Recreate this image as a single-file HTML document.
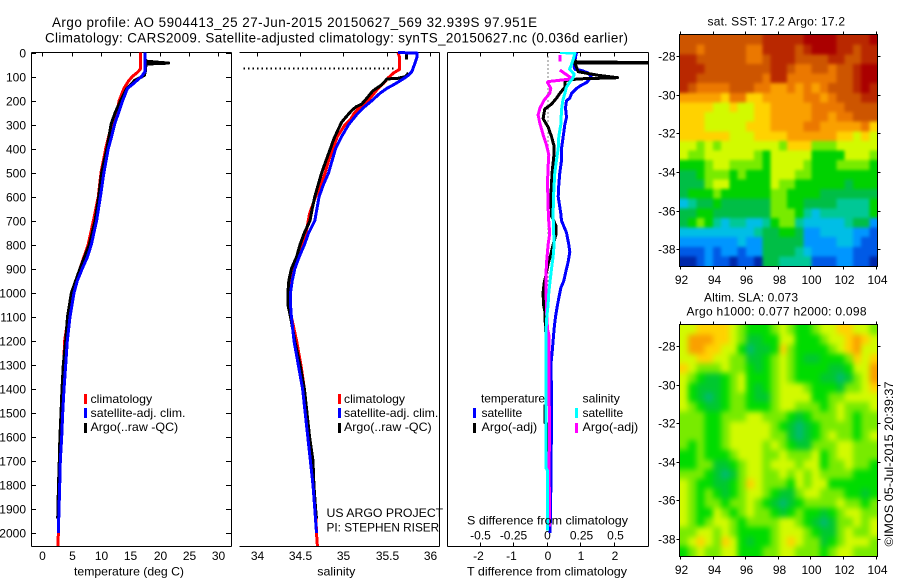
<!DOCTYPE html>
<html lang="en">
<head>
<meta charset="utf-8">
<title>Argo profile 5904413_25</title>
<style>
html,body{margin:0;padding:0;background:#fff;width:900px;height:580px;overflow:hidden}
svg{display:block;font-family:"Liberation Sans",Arial,sans-serif;font-size:12px;fill:#000}
text{fill:#000}
.frame{stroke:#000;stroke-width:1;shape-rendering:crispEdges;fill:none}
.tick{stroke:#000;stroke-width:1;shape-rendering:crispEdges}
.prof{fill:none;shape-rendering:crispEdges;stroke-linejoin:round}
.tl{font-size:13.4px}
</style>
</head>
<body>
<svg id="chart" xmlns="http://www.w3.org/2000/svg" width="900" height="580" viewBox="0 0 900 580">
<defs>
<clipPath id="diffClip"><rect x="448" y="52" width="200" height="494"/></clipPath>
<clipPath id="sstClip"><rect x="680" y="35" width="197.5" height="231"/></clipPath>
<clipPath id="slaClip"><rect x="680" y="325" width="197.5" height="231"/></clipPath>
<filter id="slaBlur" filterUnits="userSpaceOnUse" x="640" y="290" width="280" height="300" color-interpolation-filters="sRGB"><feGaussianBlur stdDeviation="3"/></filter>
<filter id="sstBlur" filterUnits="userSpaceOnUse" x="640" y="0" width="280" height="300" color-interpolation-filters="sRGB"><feGaussianBlur stdDeviation="1.6"/></filter>
</defs>

<text class="tl" x="52" y="27" textLength="485">Argo profile: AO 5904413_25 27-Jun-2015 20150627_569 32.939S 97.951E</text>
<text class="tl" x="45" y="42.5" textLength="583">Climatology: CARS2009. Satellite-adjusted climatology: synTS_20150627.nc (0.036d earlier)</text>

<g id="tempPanel"></g>
<g id="salPanel"></g>
<g id="diffPanel"></g>
<g id="sstPanel"></g>
<g id="slaPanel"></g>

<text x="74" y="575.5" textLength="110" lengthAdjust="spacingAndGlyphs">temperature (deg C)</text>
<text x="317.3" y="575.5" textLength="38" lengthAdjust="spacingAndGlyphs">salinity</text>
<text x="467" y="575.5" textLength="160" lengthAdjust="spacingAndGlyphs">T difference from climatology</text>
<text x="467" y="524.5" textLength="161" lengthAdjust="spacingAndGlyphs">S difference from climatology</text>

<g>
<rect x="84" y="394" width="3" height="10" fill="#f00"/>
<rect x="84" y="408" width="3" height="10" fill="#00f"/>
<rect x="84" y="423" width="3" height="10" fill="#000"/>
<text x="90.5" y="403" textLength="61.7" lengthAdjust="spacingAndGlyphs">climatology</text>
<text x="90.5" y="417" textLength="95" lengthAdjust="spacingAndGlyphs">satellite-adj. clim.</text>
<text x="90.5" y="431" textLength="87.7" lengthAdjust="spacingAndGlyphs">Argo(..raw -QC)</text>
</g>
<g>
<rect x="338" y="394" width="3" height="10" fill="#f00"/>
<rect x="338" y="408" width="3" height="10" fill="#00f"/>
<rect x="338" y="423" width="3" height="10" fill="#000"/>
<text x="344" y="403" textLength="61" lengthAdjust="spacingAndGlyphs">climatology</text>
<text x="344" y="417" textLength="94.3" lengthAdjust="spacingAndGlyphs">satellite-adj. clim.</text>
<text x="344" y="431" textLength="87.7" lengthAdjust="spacingAndGlyphs">Argo(..raw -QC)</text>
</g>
<text x="326.5" y="517" textLength="116.7" lengthAdjust="spacingAndGlyphs">US ARGO PROJECT</text>
<text x="326.5" y="531.5" textLength="112.7" lengthAdjust="spacingAndGlyphs">PI: STEPHEN RISER</text>

<g>
<text x="481" y="402.5" textLength="64" lengthAdjust="spacingAndGlyphs">temperature</text>
<text x="582.5" y="402.5" textLength="37.3" lengthAdjust="spacingAndGlyphs">salinity</text>
<rect x="473" y="408" width="3" height="10" fill="#00f"/>
<rect x="473" y="423" width="3" height="10" fill="#000"/>
<rect x="575" y="408" width="3" height="10" fill="#0ff"/>
<rect x="575" y="423" width="3" height="10" fill="#f0f"/>
<text x="481.5" y="417" textLength="40.7" lengthAdjust="spacingAndGlyphs">satellite</text>
<text x="481.5" y="431" textLength="55.7" lengthAdjust="spacingAndGlyphs">Argo(-adj)</text>
<text x="582.5" y="417" textLength="40.7" lengthAdjust="spacingAndGlyphs">satellite</text>
<text x="582.5" y="431" textLength="55.7" lengthAdjust="spacingAndGlyphs">Argo(-adj)</text>
</g>

<text x="707.5" y="25.5" textLength="137.5">sat. SST: 17.2 Argo: 17.2</text>
<text x="704" y="301.5" textLength="94">Altim. SLA: 0.073</text>
<text x="686.5" y="315.5" textLength="180">Argo h1000: 0.077 h2000: 0.098</text>
<text transform="translate(893,546.5) rotate(-90)" textLength="165" lengthAdjust="spacingAndGlyphs">©IMOS 05-Jul-2015 20:39:37</text>
</svg>

<script>
// ---- temperature profiles (deg C vs depth, dbar) ----
const climTempDepth = [0,70,85,100,120,150,200,250,300,400,500,600,700,800,900,950,1000,1100,1200,1300,1400,1500,1600,1700,1800,1900,2000,2054];
const climTempValue = [16.7,16.7,16.1,15.33,14.65,13.9,13.1,12.67,11.8,10.8,10,9.54,8.7,7.8,6.4,5.74,5.2,4.43,3.8,3.65,3.5,3.36,3.2,3,2.88,2.77,2.73,2.7];
const satTempDepth = [0,80,100,115,130,150,200,250,300,350,400,500,600,700,800,850,900,950,1000,1050,1100,1200,1300,1400,1500,1600,1700,1800,1900,2000];
const satTempValue = [17.5,17.5,16.9,16.2,15.5,14.5,13.7,13,12.3,11.8,11.25,10.5,9.9,9.25,8.35,7.7,6.8,5.96,5.4,5.06,4.72,4.26,3.98,3.7,3.47,3.3,3.07,2.96,2.85,2.73];
const argoTempDepth = [30,36,40,44,46,48,60,80,95,105,115,130,150,200,250,300,350,400,500,600,700,800,900,1000,1100,1200,1300,1400,1500,1600,1700,1800,1900,1940];
const argoTempValue = [17.6,17.8,19.5,21.5,19.7,17.8,17.6,17.55,17.4,16.7,15.8,15.2,14.4,13.35,12.4,11.7,11.37,11,10.1,9.6,9,8,6.4,4.95,4.3,3.98,3.58,3.36,3.19,3,2.9,2.76,2.66,2.62];

// ---- salinity profiles (null marks a data gap) ----
const climSalDepth = [0,20,70,85,105,130,150,190,220,250,280,300,350,400,450,500,550,600,670,750,800,850,900,950,1000,1050,1100,1150,1200,1300,1400,1500,1600,1700,1800,1900,2000,2054];
const climSalValue = [35.63,35.65,35.65,35.58,35.52,35.46,35.4,35.31,35.21,35.13,35.08,35.02,34.93,34.88,34.83,34.79,34.74,34.68,34.61,34.57,34.52,34.47,34.42,34.4,34.38,34.38,34.4,34.43,34.46,34.51,34.55,34.57,34.6,34.64,34.66,34.68,34.69,34.7];
const satSalDepth = [0,3,20,40,60,80,95,110,130,150,170,200,230,260,300,350,400,450,500,550,600,700,750,800,850,900,950,1000,1050,1100,1200,1300,1400,1500,1600,1700,1800,1900,2000];
const satSalValue = [35.63,35.85,35.85,35.83,35.81,35.79,35.75,35.69,35.6,35.5,35.42,35.33,35.23,35.15,35.06,34.98,34.91,34.87,34.83,34.77,34.72,34.67,34.6,34.55,34.49,34.44,34.41,34.39,34.39,34.4,34.43,34.48,34.53,34.56,34.59,34.62,34.65,34.67,34.69];
const argoSalDepth = [0,30,null,85,100,108,110,120,135,160,190,215,225,240,260,290,320,360,400,450,500,550,600,650,700,750,800,850,900,950,1000,1050,1100,1200,1300,1400,1500,1600,1700,1800,1900,1940];
const argoSalValue = [35.73,35.73,null,35.75,35.72,35.62,35.5,35.48,35.44,35.34,35.27,35.21,35.15,35.1,35.05,34.98,34.94,34.89,34.85,34.8,34.75,34.71,34.67,34.64,34.615,34.55,34.5,34.46,34.4,34.37,34.36,34.36,34.39,34.44,34.5,34.55,34.58,34.61,34.65,34.66,34.68,34.69];
const mldDepth = [66];
const mldSalRange = [33.85,35.6];

// ---- differences from climatology ----
const satTdiffDepth = [0,20,35,60,70,75,85,100,110,125,140,150,170,190,200,230,270,300,350,400,450,500,550,600,670,700,750,800,830,870,900,950,980,1050,1100,1150,1200,1250,1300,1400,1530,1820,2000];
const satTdiffValue = [0.89,0.86,0.84,0.82,0.84,1.04,1.24,1.32,1.29,1.19,0.99,0.89,0.74,0.69,0.59,0.56,0.59,0.54,0.49,0.44,0.44,0.39,0.36,0.34,0.42,0.44,0.59,0.66,0.69,0.64,0.59,0.51,0.42,0.32,0.26,0.22,0.19,0.16,0.12,0.14,0.14,0.12,0.1];
const argoTdiffDepth = [30,40,42,44,80,95,105,110,117,130,145,170,190,215,235,275,310,350,390,420,500,600,680,720,760,800,840,880,930,960,1000,1050,1075,1150,1200,1300,1465,1470,1540,1545,1700];
const argoTdiffValue = [0.84,0.89,4.8,0.84,0.94,1.54,2.12,0.94,0.54,0.54,0.54,0.39,0.29,0.14,-0.06,-0.11,0.04,0.14,0.22,0.22,0.16,0.12,0.14,0.27,0.27,0.19,0.12,0.04,-0.03,-0.08,-0.11,-0.1,-0.06,-0.04,-0.01,0,0,-0.06,-0.06,0,0];
const satSdiffDepth = [0,3,30,50,70,90,105,125,145,170,200,240,300,350,400,450,500,600,680,800,850,900,950,1000,1050,1100,1150,1730,1740,1990];
const satSdiffValue = [0.097,0.21,0.197,0.185,0.17,0.205,0.197,0.17,0.147,0.135,0.12,0.11,0.105,0.09,0.085,0.072,0.06,0.05,0.047,0.055,0.047,0.035,0.025,0.015,0.01,0,-0.005,-0.005,0.005,0.005];
const argoSdiffDepth = [10,38,null,73,107,110,121,125,149,170,198,232,260,295,343,385,426,475,544,683,753,800,877,933,990,1058,1100,1150,1175,1252,1432,1530,1750,1973];
const argoSdiffValue = [0.097,0.097,null,0.097,0.185,0.185,0.01,0.005,0.03,0.022,-0.02,-0.052,-0.065,-0.052,-0.027,-0.002,0.015,0.01,0.005,0.012,0.022,0.01,-0.002,-0.007,-0.007,-0.002,0,0.005,0.015,0.017,0.017,0.02,0.017,0.022];
const zeroLineDepth = [0,1100];
const zeroLineValue = [0.03,0.03];

// ---- tick labels ----
const depthTicks = [0,100,200,300,400,500,600,700,800,900,1000,1100,1200,1300,1400,1500,1600,1700,1800,1900,2000];
const tempTicks = [0,5,10,15,20,25,30];
const salTicks = [34,34.5,35,35.5,36];
const tdiffTicks = [-2,-1,0,1,2];
const sdiffTicks = [-0.5,-0.25,0,0.25,0.5];
const latTicks = [-28,-30,-32,-34,-36,-38];
const lonTicks = [92,94,96,98,100,102,104];

// ---- map grids: binned colour level per cell, north to south, west to east ----
const sstLevels = [
[12,12,12,12,12,12,12,12,12,12,13,13,13,13,13,14,14,14,14,13,13,13,13,14],
[12,12,11,12,12,12,12,12,11,11,13,13,13,13,12,13,14,14,14,13,13,12,13,13],
[13,13,12,12,12,12,12,12,11,11,12,13,13,13,12,12,12,12,13,13,12,12,13,13],
[13,13,13,12,12,12,12,12,12,12,12,13,13,12,11,11,12,12,11,12,12,13,14,14],
[13,13,12,12,12,12,12,12,12,12,11,13,13,11,11,11,11,11,11,12,12,13,14,14],
[13,12,11,11,11,11,12,12,12,11,11,10,10,11,10,11,10,11,12,12,12,13,14,13],
[10,10,10,10,10,9,11,11,9,9,10,10,10,10,10,11,11,10,11,12,12,12,13,13],
[9,9,9,9,8,8,9,8,8,9,9,10,10,10,10,10,11,11,11,11,12,12,12,12],
[9,9,9,8,8,8,8,8,8,9,9,10,10,10,10,10,11,11,10,11,11,12,12,12],
[9,9,9,8,8,8,8,8,9,9,9,10,10,10,10,11,11,10,10,10,10,10,11,9],
[9,9,9,9,9,9,8,8,8,9,9,9,9,10,10,10,10,10,10,9,9,8,9,8],
[8,8,7,8,7,8,8,8,8,8,8,8,7,9,9,9,7,7,7,8,8,8,8,8],
[8,7,7,8,8,8,8,8,8,7,6,8,8,8,8,8,6,6,6,6,8,8,8,7],
[6,6,6,7,8,8,7,7,7,7,6,8,8,8,8,7,6,6,6,7,7,7,7,6],
[5,5,6,7,7,7,6,7,6,6,6,8,8,8,7,7,6,6,6,6,6,6,6,6],
[5,5,5,7,8,8,6,6,6,6,6,8,7,7,6,6,6,6,6,6,5,6,6,6],
[5,6,6,6,7,6,6,6,6,6,6,7,7,6,6,6,6,5,5,5,5,5,5,5],
[3,4,5,5,6,5,5,5,5,5,5,7,7,6,6,5,5,5,5,4,4,4,4,6],
[5,5,6,6,5,5,5,5,5,5,5,7,7,7,6,4,3,4,4,4,4,4,4,6],
[5,6,7,6,4,3,4,4,3,3,4,6,7,7,4,3,3,3,3,3,4,5,5,2],
[3,3,3,3,3,3,3,3,3,4,5,5,6,6,5,2,2,3,3,3,3,2,2,1],
[2,2,2,2,2,2,2,3,2,2,5,5,5,5,5,2,2,2,2,3,3,2,1,1],
[1,1,1,2,1,2,2,1,2,2,5,5,5,5,4,3,2,2,2,2,2,1,1,1],
[0,0,1,2,1,1,0,1,1,0,5,5,4,4,4,4,1,1,1,2,2,1,1,0]
];
const slaLevels = [
[8,8,9,9,9,9,8,7,6,6,6,7,8,7,6,6,7,8,8,9,9,8,8,7],
[8,10,10,10,9,9,8,7,5,5,6,6,8,8,6,6,6,7,8,8,9,10,9,8],
[8,10,10,9,9,8,8,6,4,5,5,6,9,7,6,6,6,6,7,8,9,10,8,8],
[8,8,9,9,8,8,7,7,5,5,6,7,8,7,6,5,5,6,6,6,7,9,8,9],
[9,8,7,7,7,8,7,7,6,5,6,7,8,7,6,6,6,6,5,5,6,8,8,10],
[8,7,6,5,5,6,7,8,6,6,6,7,8,7,6,6,6,5,5,4,5,7,8,10],
[8,6,5,5,5,6,7,8,6,5,6,7,8,8,8,7,6,6,6,5,7,7,8,9],
[8,6,5,4,5,6,7,7,6,5,5,7,8,8,8,8,6,6,7,7,8,8,8,8],
[8,7,6,5,5,6,7,7,6,6,6,7,8,8,7,7,7,6,7,8,7,7,7,8],
[7,7,7,6,6,7,7,7,8,8,7,7,7,6,5,6,7,7,7,8,7,6,7,7],
[7,7,7,6,6,7,8,8,8,8,8,7,6,5,4,5,6,7,7,7,7,6,7,7],
[7,7,7,6,6,7,8,8,8,8,8,7,7,5,4,5,6,7,8,7,7,6,7,8],
[7,6,7,6,6,7,8,8,8,8,7,8,7,6,5,5,7,7,7,8,8,7,7,7],
[6,6,7,6,6,6,7,8,8,8,7,7,8,7,7,7,8,6,7,8,8,7,7,7],
[6,6,7,7,5,5,6,7,8,8,7,8,8,8,7,8,8,6,7,7,8,7,7,6],
[7,7,7,6,5,4,5,7,8,8,7,7,8,7,8,7,8,7,7,7,7,6,6,6],
[8,7,6,6,5,5,6,7,9,8,7,7,7,6,8,7,8,8,6,6,6,6,6,6],
[8,7,6,7,6,5,6,7,8,8,7,6,5,5,7,8,8,7,7,7,6,6,5,6],
[8,7,6,7,7,6,7,7,8,7,6,5,4,5,6,7,7,7,7,8,7,7,6,7],
[8,7,6,6,8,7,6,7,8,7,7,6,5,6,7,6,6,5,6,7,8,8,7,7],
[8,7,6,7,8,8,7,6,7,7,7,7,8,8,7,6,5,4,5,7,7,8,7,8],
[7,7,8,8,7,8,7,6,6,6,6,7,8,8,8,7,6,5,5,7,8,7,7,8],
[7,8,9,8,7,9,8,6,5,6,6,7,8,9,8,7,7,5,6,7,8,8,8,7],
[6,7,8,7,7,8,8,6,6,6,7,7,8,8,7,7,7,6,7,8,8,7,7,7]
];
const sstPalette = ['#0028aa','#005ae6','#0096ff','#00bee6','#00c896','#00be46','#00d200','#78eb00','#d2fa00','#ffd200','#faa000','#eb7800','#cd5500','#b92800','#aa0000'];
const slaPalette = ['#0028aa','#005ae6','#0096ff','#00bee6','#00bb70','#00c830','#00dc00','#78eb00','#d2fa00','#ffd200','#faa000','#eb7800','#cd5500','#b92800','#aa0000'];

// ---- axis functions ----
function yDepth(d){ return 52.5 + 0.2403*d; }
function xTemp(t){ return 42.3 + 5.87*t; }
function xSal(s){ return 256.7 + 86.67*(s-34); }
function xTdiff(v){ return 546.8 + 33.4*v; }
function xSdiff(v){ return 546.8 + 133.6*v; }
function xLon(lon){ return 680 + 16.3*(lon-92); }
function yLatSst(lat){ return 56 + 19.33*(-28-lat); }
function yLatSla(lat){ return 346.3 + 19.27*(-28-lat); }

const NS = 'http://www.w3.org/2000/svg';
function make(tag, parent){
  const el = document.createElementNS(NS, tag);
  parent.appendChild(el);
  return el;
}
function segment(parent, x1, y1, x2, y2, name){
  const el = make('line', parent);
  el.setAttribute('x1', x1); el.setAttribute('y1', y1);
  el.setAttribute('x2', x2); el.setAttribute('y2', y2);
  el.setAttribute('class', 'tick');
  
  
  return el;
}
function label(parent, x, y, str, anchor, name){
  const el = make('text', parent);
  el.setAttribute('x', x); el.setAttribute('y', y);
  el.setAttribute('text-anchor', anchor);
  el.textContent = str;
  
  
  return el;
}
function profile(parent, xFn, depths, values, colour, width, name, clip){
  let d = '', pen = false;
  for (let i = 0; i < depths.length; i++){
    if (depths[i] === null || values[i] === null){ pen = false; continue; }
    d += (pen ? 'L' : 'M') + xFn(values[i]).toFixed(1) + ' ' + yDepth(depths[i]).toFixed(1);
    pen = true;
  }
  const el = make('path', parent);
  el.setAttribute('d', d);
  el.setAttribute('class', 'prof');
  el.setAttribute('stroke', colour);
  el.setAttribute('stroke-width', width);
  if (clip) el.setAttribute('clip-path', 'url(#' + clip + ')');
  
  
  return el;
}

// ---- temperature panel ----
const tempPanel = document.getElementById('tempPanel');
segment(tempPanel, 31.5, 52.5, 31.5, 546.5, 'temperature-frame-left');
segment(tempPanel, 231.5, 52.5, 231.5, 546.5, 'temperature-frame-right');
segment(tempPanel, 31.5, 52.5, 231.5, 52.5, 'temperature-frame-top');
segment(tempPanel, 31.5, 546.5, 231.5, 546.5, 'temperature-frame-bottom');
depthTicks.forEach(function(d){
  const y = Math.round(yDepth(d)) + 0.5;
  segment(tempPanel, 31.5, y, 36, y, 'depth-tick-left-' + d);
  segment(tempPanel, 226, y, 231.5, y, 'depth-tick-right-' + d);
  label(tempPanel, 26, y + 4, String(d), 'end', 'depth-label-' + d);
});
tempTicks.forEach(function(t){
  const x = Math.round(xTemp(t)) + 0.5;
  segment(tempPanel, x, 52.5, x, 56.5, 'temperature-tick-' + t);
  label(tempPanel, x, 560, String(t), 'middle', 'temperature-label-' + t);
});
profile(tempPanel, xTemp, climTempDepth, climTempValue, '#f00', 3, 'temperature-climatology-line');
profile(tempPanel, xTemp, argoTempDepth, argoTempValue, '#000', 3, 'temperature-argo-line');
profile(tempPanel, xTemp, satTempDepth, satTempValue, '#00f', 3, 'temperature-satellite-line');

// ---- salinity panel ----
const salPanel = document.getElementById('salPanel');
segment(salPanel, 439.5, 52.5, 439.5, 546.5, 'salinity-frame-right');
segment(salPanel, 239.5, 52.5, 439.5, 52.5, 'salinity-frame-top');
segment(salPanel, 239.5, 546.5, 439.5, 546.5, 'salinity-frame-bottom');
salTicks.forEach(function(s){
  const x = Math.round(xSal(s)) + 0.5;
  segment(salPanel, x, 52.5, x, 56.5, 'salinity-tick-' + s);
  label(salPanel, x, 560, String(s), 'middle', 'salinity-label-' + s);
});
profile(salPanel, xSal, climSalDepth, climSalValue, '#f00', 3, 'salinity-climatology-line');
profile(salPanel, xSal, argoSalDepth, argoSalValue, '#000', 3, 'salinity-argo-line');
profile(salPanel, xSal, satSalDepth, satSalValue, '#00f', 3, 'salinity-satellite-line');
mldDepth.forEach(function(d){
  const el = segment(salPanel, xSal(mldSalRange[0]), yDepth(d), xSal(mldSalRange[1]), yDepth(d), 'mixed-layer-dotted-line');
  el.setAttribute('style', 'stroke-width:2;stroke-dasharray:1.5 3');
});

// ---- difference panel ----
const diffPanel = document.getElementById('diffPanel');
segment(diffPanel, 447.5, 52.5, 447.5, 546.5, 'difference-frame-left');
segment(diffPanel, 648.5, 52.5, 648.5, 546.5, 'difference-frame-right');
segment(diffPanel, 447.5, 52.5, 648.5, 52.5, 'difference-frame-top');
segment(diffPanel, 447.5, 546.5, 648.5, 546.5, 'difference-frame-bottom');
tdiffTicks.forEach(function(v){
  const x = Math.round(xTdiff(v)) + 0.5;
  segment(diffPanel, x, 542.5, x, 546.5, 't-difference-tick-' + v);
  label(diffPanel, x + (v < 0 ? -2 : 0.5), 560, String(v), 'middle', 't-difference-label-' + v);
});
sdiffTicks.forEach(function(v){
  const x = Math.round(xSdiff(v)) + 0.5;
  segment(diffPanel, x, 52.5, x, 56.5, 's-difference-tick-' + v);
  label(diffPanel, x + (v > 0 ? 1 : 0), 539.5, String(v), 'middle', 's-difference-label-' + v);
});
const zeroPath = profile(diffPanel, xTdiff, zeroLineDepth, zeroLineValue, '#000', 1, 'zero-difference-dotted-line', 'diffClip');
zeroPath.setAttribute('stroke-dasharray', '1 3');
profile(diffPanel, xTdiff, satTdiffDepth, satTdiffValue, '#00f', 3, 't-difference-satellite-line', 'diffClip');
profile(diffPanel, xTdiff, argoTdiffDepth, argoTdiffValue, '#000', 3, 't-difference-argo-line', 'diffClip');
profile(diffPanel, xSdiff, argoSdiffDepth, argoSdiffValue, '#f0f', 3, 's-difference-argo-line', 'diffClip');
profile(diffPanel, xSdiff, satSdiffDepth, satSdiffValue, '#0ff', 3, 's-difference-satellite-line', 'diffClip');

// ---- maps ----
function drawMap(panel, grid, palette, yLat, top, bottom, clipId, filterId, prefix, lonLabelY){
  const holder = make('g', panel);
  holder.setAttribute('clip-path', 'url(#' + clipId + ')');
  
  
  const cells = make('g', holder);
  
  
  cells.setAttribute('filter', 'url(#' + filterId + ')');
  const nRow = grid.length, nCol = grid[0].length;
  const lonStep = 12.12 / nCol;
  const latTop = -28 + (yLat(-28) - top) / ((yLat(-38) - yLat(-28)) / 10);
  const latStep = ((bottom - top) / ((yLat(-38) - yLat(-28)) / 10)) / nRow;
  grid.forEach(function(row, r){
    row.forEach(function(level, c){
      let x0 = xLon(92 + c*lonStep), x1 = xLon(92 + (c+1)*lonStep);
      let y0 = yLat(latTop - r*latStep), y1 = yLat(latTop - (r+1)*latStep);
      if (c === 0) x0 -= 14;
      if (c === nCol-1) x1 += 14;
      if (r === 0) y0 -= 14;
      if (r === nRow-1) y1 += 14;
      const cell = make('rect', cells);
      cell.setAttribute('x', x0.toFixed(2));
      cell.setAttribute('y', y0.toFixed(2));
      cell.setAttribute('width', (x1 - x0 + 0.6).toFixed(2));
      cell.setAttribute('height', (y1 - y0 + 0.6).toFixed(2));
      cell.setAttribute('fill', palette[Math.max(0, Math.min(palette.length-1, Math.round(level)))]);
      cell.setAttribute('shape-rendering', 'crispEdges');
      
      
    });
  });
  const frame = make('rect', panel);
  frame.setAttribute('x', 679.5); frame.setAttribute('y', top - 0.5);
  frame.setAttribute('width', 198); frame.setAttribute('height', bottom - top + 1);
  frame.setAttribute('class', 'frame');
  
  
  latTicks.forEach(function(lat){
    const y = Math.round(yLat(lat)) + 0.5;
    segment(panel, 676.5, y, 679.5, y, prefix + '-lat-tick-left-' + lat);
    segment(panel, 877.5, y, 880.5, y, prefix + '-lat-tick-right-' + lat);
    label(panel, 675.5, y + 4, String(lat), 'end', prefix + '-lat-label-' + lat);
  });
  lonTicks.forEach(function(lon){
    const x = Math.round(xLon(lon)) + 0.5;
    segment(panel, x, top - 3.5, x, top - 0.5, prefix + '-lon-tick-top-' + lon);
    segment(panel, x, bottom + 0.5, x, bottom + 3.5, prefix + '-lon-tick-bottom-' + lon);
    label(panel, x + 1, lonLabelY, String(lon), 'middle', prefix + '-lon-label-' + lon);
  });
}
drawMap(document.getElementById('sstPanel'), sstLevels, sstPalette, yLatSst, 35, 266, 'sstClip', 'sstBlur', 'sst', 284);
drawMap(document.getElementById('slaPanel'), slaLevels, slaPalette, yLatSla, 325, 556, 'slaClip', 'slaBlur', 'sla', 574);
</script>
</body>
</html>
